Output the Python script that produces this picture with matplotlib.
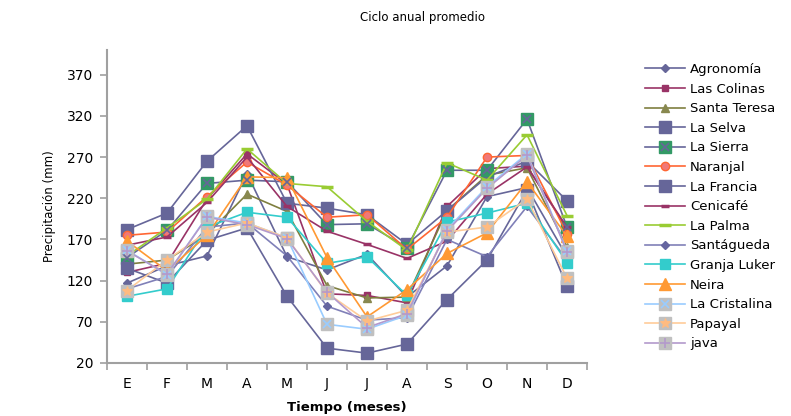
import matplotlib
matplotlib.use("Agg")
import matplotlib.pyplot as plt
from matplotlib.ticker import FixedLocator, NullFormatter
import numpy as np

months = ["E", "F", "M", "A", "M", "J", "J", "A", "S", "O", "N", "D"]

agronomia    = [117, 138, 150, 250, 149, 133, 152, 100, 138, 222, 233, 149]
las_colinas  = [130, 141, 219, 274, 237, 104, 102,  93, 210, 256, 259, 183]
santa_teresa = [140, 145, 176, 225, 204, 114,  99, 100, 205, 248, 257, 161]
la_selva     = [182, 202, 265, 308, 214, 208, 200, 164, 205, 246, 265, 217]
la_sierra    = [148, 181, 238, 242, 240, 188, 189, 160, 254, 254, 316, 185]
naranjal     = [175, 179, 222, 264, 236, 197, 200, 158, 197, 270, 272, 177]
la_francia   = [135, 117, 169, 184, 101,  38,  32,  43,  97, 145, 230, 113]
cenicafe     = [163, 173, 215, 270, 210, 180, 164, 147, 168, 225, 258, 185]
la_palma     = [150, 184, 219, 280, 238, 234, 192, 157, 263, 242, 297, 199]
santagueda   = [110, 125, 185, 190, 150,  89,  72,  75, 170, 149, 210, 145]
granja_luker = [101, 110, 185, 203, 197, 141, 149, 102, 191, 202, 214, 142]
neira        = [168, 132, 175, 246, 245, 148,  76, 109, 153, 178, 240, 174]
la_cristalina= [157, 127, 198, 190, 172,  67,  61,  78, 182, 234, 274, 156]
papayal      = [108, 145, 179, 190, 172, 105,  71,  84, 179, 185, 219, 123]
java         = [156, 128, 197, 188, 171, 106,  63,  80, 180, 232, 272, 155]

y_ticks = [20, 70, 120, 170, 220, 270, 320, 370]

fig = plt.figure(figsize=(7.91, 4.16), dpi=100)
ax = fig.add_axes([107/791, 1-363/416, 480/791, 313/416])

x = np.arange(1, 13)
gray = "#C0C0C0"
handles = []

def series(vals, label, color, marker, ms, mfc=None, mec=None, mew=1.0,
           over=None, over_color=None, over_ms=None, over_mew=1.2, z=2):
    l, = ax.plot(x, vals, color=color, lw=1.2, marker=marker, ms=ms,
                 mfc=mfc or color, mec=mec or (mfc or color), mew=mew, zorder=z)
    if over:
        o, = ax.plot(x, vals, ls="none", marker=over, ms=over_ms or ms*0.7,
                     mec=over_color, mfc=over_color, mew=over_mew, zorder=z+0.1)
        handles.append(((l, o), label))
    else:
        handles.append((l, label))

series(agronomia, "Agronomía", "#666699", "D", 4.5)
series(las_colinas, "Las Colinas", "#993366", "s", 5)
series(santa_teresa, "Santa Teresa", "#7F7F3F", "^", 6, mfc="#88884F")
series(la_selva, "La Selva", "#666699", "s", 9)
series(la_sierra, "La Sierra", "#666699", "s", 9, mfc="#339966",
       over="x", over_color="#666699", over_ms=6)
series(naranjal, "Naranjal", "#FF6633", "o", 6, mfc="#F07878", mec="#FF6633")
series(la_francia, "La Francia", "#666699", "s", 9)
series(cenicafe, "Cenicafé", "#993366", "_", 6, mew=2.5)
series(la_palma, "La Palma", "#99CC33", "_", 8, mew=2.5)
series(santagueda, "Santágueda", "#8080B8", "D", 4.5, mfc="#6666A0")
series(granja_luker, "Granja Luker", "#33CCCC", "s", 6.5)
series(neira, "Neira", "#FF9933", "^", 8)
series(la_cristalina, "La Cristalina", "#99CCFF", "s", 9, mfc=gray,
       over="x", over_color="#99CCFF", over_ms=6)
series(papayal, "Papayal", "#FFCC99", "s", 9, mfc=gray,
       over="*", over_color="#FFBB80", over_ms=7, over_mew=0.8)
series(java, "java", "#B399CC", "s", 9, mfc=gray,
       over="+", over_color="#B399CC", over_ms=7)

ax.set_xlim(0.5, 12.5)
ax.set_ylim(20, 400)
ax.set_xticks(x)
ax.set_xticklabels(months, fontsize=10)
ax.xaxis.set_minor_locator(FixedLocator(np.arange(0.5, 13, 1)))
ax.xaxis.set_minor_formatter(NullFormatter())
ax.tick_params(axis="x", which="major", length=0, pad=10)
ax.tick_params(axis="x", which="minor", length=5, width=1.2, color="#A0A0A0", direction="out")
ax.set_yticks(y_ticks)
ax.set_yticklabels([str(v) for v in y_ticks], fontsize=10)
ax.tick_params(axis="y", length=5, width=1.2, color="#A0A0A0", direction="out", pad=5)

for s in ["top", "right"]:
    ax.spines[s].set_visible(False)
for s in ["left", "bottom"]:
    ax.spines[s].set_color("#A0A0A0")
    ax.spines[s].set_linewidth(1.5)

ax.set_xlabel("Tiempo (meses)", fontsize=9.5, fontweight="bold", labelpad=7)
ax.set_ylabel("Precipitación (mm)", fontsize=8.5, labelpad=8)
fig.text(423/791, 1-18/416, "Ciclo anual promedio", ha="center", va="center", fontsize=8.5)

leg = fig.legend([h for h, _ in handles], [lab for _, lab in handles],
                 loc="upper left", bbox_to_anchor=(645/791, 1-63/416),
                 frameon=False, fontsize=9.5, handlelength=3.0,
                 labelspacing=0.5, borderpad=0, borderaxespad=0,
                 handletextpad=0.4, numpoints=1)

fig.savefig("out.png", dpi=100)
